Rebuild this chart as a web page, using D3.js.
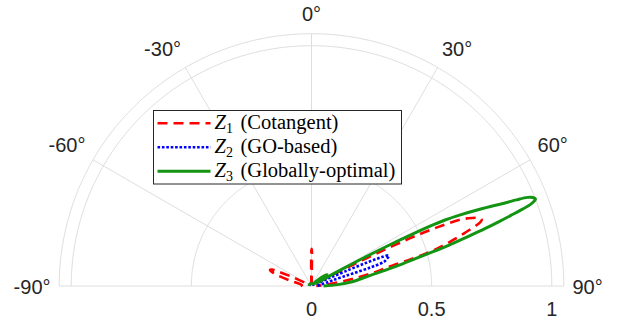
<!DOCTYPE html>
<html>
<head>
<meta charset="utf-8">
<script src="https://cdn.jsdelivr.net/npm/d3@7"></script>
<style>
  body { margin: 0; background: #fff; }
  svg { display: block; }
</style>
</head>
<body>
<div id="chart"></div>
<script>
// Beam patterns, angle in degrees (0 = up, clockwise) and magnitude
const z1Theta = [-90, -85, -80, -76, -73, -71, -69.5, -68.5, -67.5, -66.5, -65, -62, -55, -40, -20, -5, -2, -1, 0, 0.5, 1, 2, 5, 20, 40, 55, 60, 61.8, 62.3, 62.8, 63.3, 63.8, 64.3, 65, 66, 67, 67.6, 68.1, 68.7, 69.1, 69.5, 70, 71, 72, 73, 74, 75, 76, 77.5, 80, 85, 90];
const z1R     = [0.045, 0.04, 0.05, 0.09, 0.14, 0.17, 0.183, 0.185, 0.178, 0.15, 0.09, 0.02, 0.01, 0.01, 0.01, 0.01, 0.02, 0.08, 0.15, 0.155, 0.1, 0.02, 0.01, 0.01, 0.01, 0.01, 0.01, 0.02, 0.09, 0.18, 0.28, 0.38, 0.48, 0.58, 0.68, 0.725, 0.745, 0.757, 0.76, 0.756, 0.745, 0.72, 0.67, 0.62, 0.57, 0.51, 0.42, 0.33, 0.28, 0.18, 0.06, 0.02];

const z2Theta = [-90, -45, 0, 45, 60, 64, 65.5, 66, 66.5, 67, 67.7, 68.3, 69.5, 70.5, 71.4, 72, 72.5, 73, 73.5, 75, 78, 82, 86, 90];
const z2R     = [0.01, 0.01, 0.01, 0.01, 0.01, 0.02, 0.03, 0.08, 0.15, 0.24, 0.32, 0.345, 0.34, 0.33, 0.32, 0.3, 0.26, 0.2, 0.14, 0.09, 0.06, 0.04, 0.03, 0.02];

const z3Theta = [-90, -60, -30, 0, 30, 45, 50, 54, 57, 59, 60.5, 61.2, 61.7, 62.2, 62.7, 63.2, 63.7, 64.5, 65.5, 66.8, 67.2, 67.7, 68.2, 68.75, 69.1, 69.5, 70.0, 70.5, 71, 71.7, 72.5, 73.4, 74.3, 75.2, 76.3, 77.5, 79, 81, 84, 87, 90];
const z3R     = [0.01, 0.01, 0.01, 0.01, 0.01, 0.03, 0.06, 0.08, 0.05, 0.02, 0.05, 0.15, 0.25, 0.35, 0.45, 0.55, 0.62, 0.69, 0.77, 0.88, 0.925, 0.972, 0.992, 1.0, 0.993, 0.976, 0.935, 0.88, 0.83, 0.76, 0.68, 0.6, 0.52, 0.45, 0.39, 0.33, 0.27, 0.22, 0.17, 0.11, 0.05];

const thetaTicks = [-90, -60, -30, 0, 30, 60, 90];
const rTicks = [0, 0.5, 1];
const rRings = [0.5, 1];
const rMax = 1.05;

const seriesNames = ['(Cotangent)', '(GO-based)', '(Globally-optimal)'];
const seriesSubs = ['1', '2', '3'];

const width = 620, height = 321;
const cx = 311.5, cy = 286;
const gridColor = '#dedede';
const textColor = '#262626';
const sansFont = '"Liberation Sans", Arial, sans-serif';
const serifFont = '"Liberation Serif", "Times New Roman"';

const series = [
    { theta: z1Theta, r: z1R, color: '#ff0000', width: 2.6, dash: '10,6' },
    { theta: z2Theta, r: z2R, color: '#0000ff', width: 2.6, dash: '2.6,1.8' },
    { theta: z3Theta, r: z3R, color: '#139413', width: 3, dash: null }
];

const rScale = d3.scaleLinear().domain([0, rMax]).range([0, 252.3]);
const aScale = d3.scaleLinear().domain([-90, 90]).range([-Math.PI / 2, Math.PI / 2]);

const svg = d3.select('#chart').append('svg')
    .attr('width', width)
    .attr('height', height);

const g = svg.append('g').attr('transform', `translate(${cx},${cy})`);

// Grid rings, including the outer boundary
g.selectAll('.ring')
    .data(rRings.concat([rMax]))
  .enter()
  .append('path')
    .attr('class', 'ring')
    .attr('fill', 'none')
    .attr('stroke', gridColor)
    .attr('stroke-width', 1)
    .attr('d', v => d3.lineRadial()
        .angle(a => aScale(a))
        .radius(rScale(v))(d3.range(-90, 90.5, 0.5)));

// Spokes
g.selectAll('.spoke')
    .data(thetaTicks)
  .enter()
  .append('line')
    .attr('class', 'spoke')
    .attr('x1', 0).attr('y1', 0)
    .attr('x2', d => rScale(rMax) * Math.sin(aScale(d)))
    .attr('y2', d => -rScale(rMax) * Math.cos(aScale(d)))
    .attr('stroke', gridColor)
    .attr('stroke-width', 1);

// Theta labels: anchored on a circle just outside the boundary,
// bottom aligned above the sides, middle aligned at +-90
const fs = 20;
const labelR = 261;
g.selectAll('.theta-label')
    .data(thetaTicks)
  .enter()
  .append('text')
    .attr('class', 'theta-label')
    .style('font-family', sansFont)
    .style('font-size', fs + 'px')
    .attr('fill', textColor)
    .attr('text-anchor', d => d === 0 ? 'middle' : (d > 0 ? 'start' : 'end'))
    .attr('x', d => labelR * Math.sin(aScale(d)))
    .attr('y', d => {
        let y = -labelR * Math.cos(aScale(d));
        return Math.abs(d) === 90 ? y + 8 : y - 4;
    })
    .text(d => d + '°');

// Radius labels along the bottom edge
g.selectAll('.r-label')
    .data(rTicks)
  .enter()
  .append('text')
    .attr('class', 'r-label')
    .style('font-family', sansFont)
    .style('font-size', fs + 'px')
    .attr('fill', textColor)
    .attr('text-anchor', 'middle')
    .attr('x', d => rScale(d))
    .attr('y', 29.5)
    .text(d => d);

// Patterns
const radial = d3.lineRadial()
    .angle(d => aScale(d[0]))
    .radius(d => rScale(d[1]))
    .curve(d3.curveCatmullRom.alpha(0.5));

g.selectAll('.pattern')
    .data(series)
  .enter()
  .append('path')
    .attr('class', 'pattern')
    .attr('fill', 'none')
    .attr('stroke', s => s.color)
    .attr('stroke-width', s => s.width)
    .attr('stroke-dasharray', s => s.dash)
    .attr('stroke-linejoin', 'round')
    .attr('d', s => radial(d3.zip(s.theta, s.r)));

// Legend
const legend = svg.append('g').attr('transform', 'translate(153.5,110.5)');

legend.append('rect')
    .attr('width', 248)
    .attr('height', 73.5)
    .attr('fill', '#fff')
    .attr('stroke', textColor)
    .attr('stroke-width', 1);

const rows = legend.selectAll('.row')
    .data(series)
  .enter()
  .append('g')
    .attr('class', 'row')
    .attr('transform', (s, i) => `translate(0,${18.8 + i * 24})`);

rows.append('line')
    .attr('x1', 4).attr('x2', 57)
    .attr('y1', -6).attr('y2', -6)
    .attr('stroke', s => s.color)
    .attr('stroke-width', s => s.width)
    .attr('stroke-dasharray', s => s.dash);

let label = rows.append('text')
    .style('font-family', serifFont)
    .style('font-size', '20.5px')
    .attr('fill', '#000')
    .attr('x', 61);

label.append('tspan')
    .style('font-style', 'italic')
    .text('Z');
label.append('tspan')
    .style('font-size', '14px')
    .attr('dy', 4)
    .text((s, i) => seriesSubs[i]);

rows.append('text')
    .style('font-family', serifFont)
    .style('font-size', '20.5px')
    .attr('fill', '#000')
    .attr('x', 87)
    .text((s, i) => seriesNames[i]);
</script>
</body>
</html>
